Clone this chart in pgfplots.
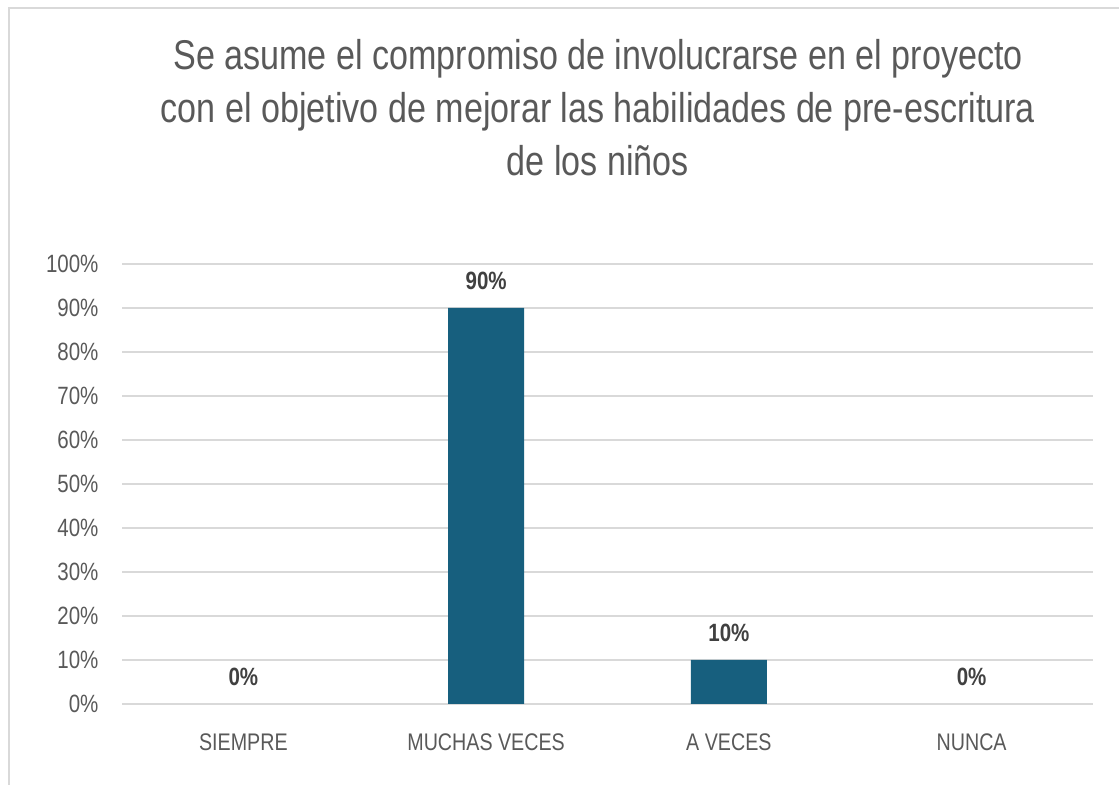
\documentclass[border=0pt]{standalone}
\usepackage{pgfplots}
\pgfplotsset{compat=1.18}
\usepackage{fontspec}
\setmainfont{Liberation Sans}[FakeStretch=0.82]
\definecolor{barblue}{RGB}{23,95,126}
\definecolor{gridgray}{RGB}{217,217,217}
\definecolor{txtgray}{RGB}{89,89,89}
\definecolor{lblgray}{RGB}{64,64,64}
\begin{document}
\begin{tikzpicture}
\useasboundingbox (0,0) rectangle (1119bp,785bp);
\draw[gridgray, line width=2bp] (8.5bp,0) -- (8.5bp,776.5bp) -- (1119bp,776.5bp);
\node[text=txtgray, align=center, font=\fontsize{41.6bp}{53bp}\selectfont] at (598bp,677bp)
  {Se asume el compromiso de involucrarse en el proyecto\\con el objetivo de mejorar las habilidades de pre-escritura\\de los niños};
\begin{axis}[
  at={(122bp,81bp)}, anchor=south west,
  scale only axis, width=971bp, height=440bp,
  xmin=-0.5, xmax=3.5, ymin=0, ymax=100,
  ytick={0,10,...,100},
  yticklabel={\pgfmathprintnumber{\tick}\%},
  /pgf/number format/assume math mode=true,
  xtick={0,1,2,3},
  xticklabels={SIEMPRE,MUCHAS VECES,A VECES,NUNCA},
  axis line style={draw=none},
  major tick length=0pt,
  ymajorgrids, grid style={gridgray, line width=1.8bp},
  tick label style={text=txtgray, font=\fontsize{24bp}{24bp}\selectfont},
  yticklabel style={font=\fontsize{25bp}{25bp}\selectfont, xshift=-20bp},
  xticklabel style={yshift=-26bp},
  ybar, bar width=76bp,
  nodes near coords={\pgfmathprintnumber{\pgfplotspointmeta}\%},
  nodes near coords style={text=lblgray, font=\fontsize{25bp}{25bp}\selectfont\bfseries, anchor=south, yshift=15bp},
]
\addplot[fill=barblue, draw=none] coordinates {(0,0) (1,90) (2,10) (3,0)};
\end{axis}
\end{tikzpicture}
\end{document}
